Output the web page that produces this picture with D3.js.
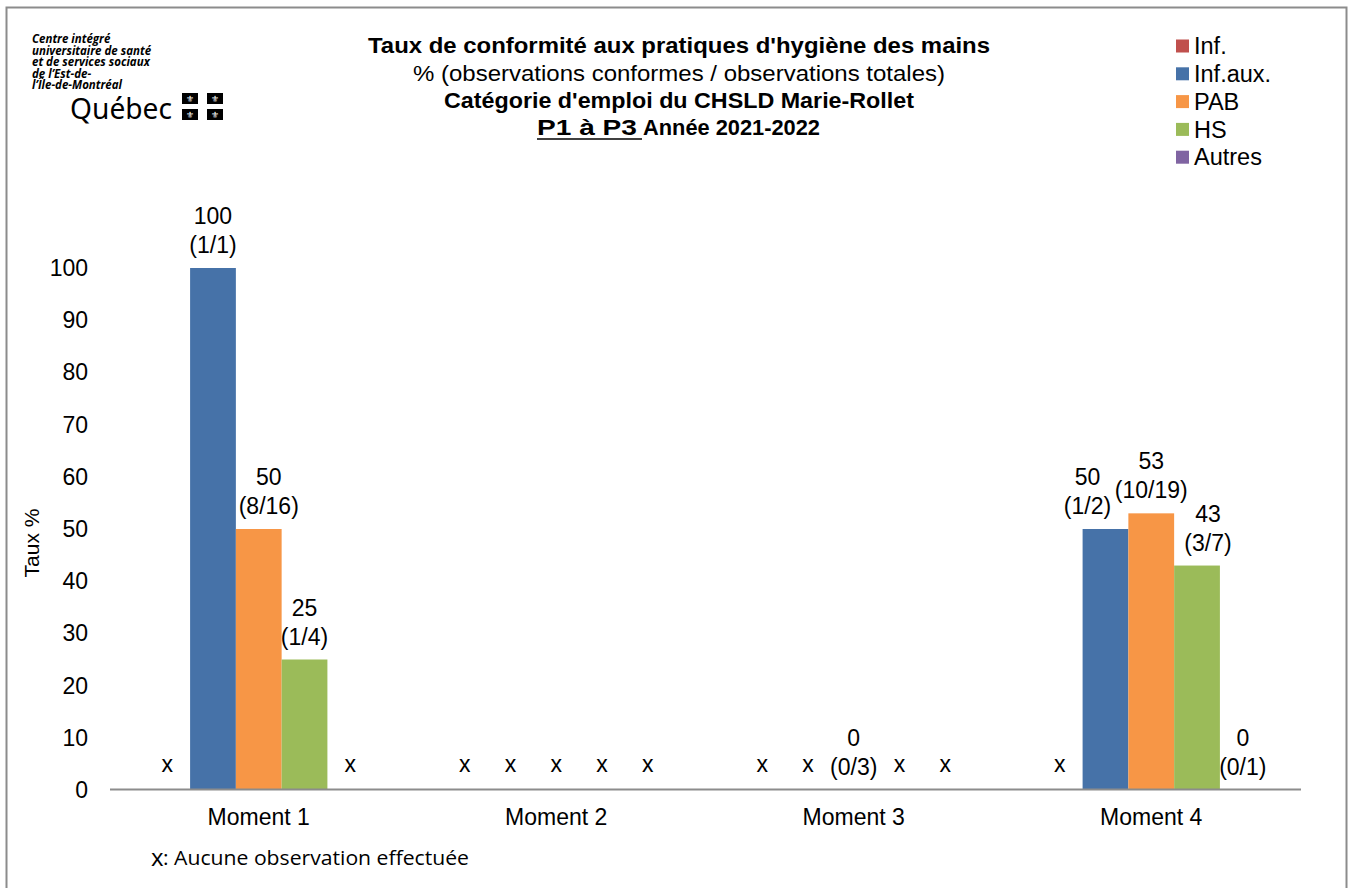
<!DOCTYPE html>
<html>
<head>
<meta charset="utf-8">
<script src="https://cdn.jsdelivr.net/npm/d3@7"></script>
<style>
  html, body { margin: 0; padding: 0; background: #fff; }
  svg { display: block; }
  text { font-family: "Liberation Sans", Arial, sans-serif; fill: #000; }
</style>
</head>
<body>
<svg id="chart" width="1350" height="888"></svg>
<script>
// ---- Data -----------------------------------------------------------------
var categories = ['Moment 1', 'Moment 2', 'Moment 3', 'Moment 4'];
var seriesNames = ['Inf.', 'Inf.aux.', 'PAB', 'HS', 'Autres'];
var seriesColors = ['#C0504D', '#4672A8', '#F79646', '#9BBB59', '#8064A2'];
// null = aucune observation (drawn as "x")
var infValues     = [null, null, null, null];
var infAuxValues  = [100, null, null, 50];
var pabValues     = [50, null, 0, 53];
var hsValues      = [25, null, null, 43];
var autresValues  = [null, null, null, 0];
var infFrac       = [null, null, null, null];
var infAuxFrac    = ['1/1', null, null, '1/2'];
var pabFrac       = ['8/16', null, '0/3', '10/19'];
var hsFrac        = ['1/4', null, null, '3/7'];
var autresFrac    = [null, null, null, '0/1'];
var yTicks = [0, 10, 20, 30, 40, 50, 60, 70, 80, 90, 100];

var seriesValues = [infValues, infAuxValues, pabValues, hsValues, autresValues];
var seriesFracs = [infFrac, infAuxFrac, pabFrac, hsFrac, autresFrac];

// labels nudged sideways in the original so they don't collide
var labelNudge = { 'Moment 1|PAB': 10, 'Moment 4|Inf.aux.': -18, 'Moment 4|HS': 11 };

var FS = '23px';   // chart label size
var svg = d3.select('#chart');

// ---- Frame ----------------------------------------------------------------
svg.append('rect')
  .attr('x', 6.5).attr('y', 7.5)
  .attr('width', 1340).attr('height', 900)
  .attr('fill', '#fff').attr('stroke', '#8c8c8c').attr('stroke-width', 2);

// ---- Scales ---------------------------------------------------------------
var x0 = d3.scaleBand().domain(categories).range([110, 1300]).padding(0);
var x1 = d3.scaleBand().domain(seriesNames).range([0, x0.bandwidth()])
  .paddingInner(0).paddingOuter(0.75);
var y = d3.scaleLinear().domain([0, 100]).range([790, 268]);

// ---- Y axis (labels only, no line) ---------------------------------------
svg.append('g').selectAll('text').data(yTicks).enter().append('text')
  .attr('x', 88).attr('y', function(d) { return y(d); })
  .attr('dy', '0.35em')
  .attr('text-anchor', 'end')
  .style('font-size', FS)
  .text(function(d) { return d; });

svg.append('text')
  .attr('transform', 'translate(32,543) rotate(-90)')
  .attr('dy', '0.35em')
  .attr('text-anchor', 'middle')
  .style('font-size', '21px')
  .text('Taux %');

// ---- Bars -----------------------------------------------------------------
var flat = [];
categories.forEach(function(c, ci) {
  seriesNames.forEach(function(s, si) {
    flat.push({ cat: c, ser: s, si: si, value: seriesValues[si][ci], frac: seriesFracs[si][ci] });
  });
});

var gBars = svg.append('g');
gBars.selectAll('rect').data(flat.filter(function(d) { return d.value; })).enter().append('rect')
  .attr('x', function(d) { return x0(d.cat) + x1(d.ser); })
  .attr('y', function(d) { return y(d.value); })
  .attr('width', x1.bandwidth())
  .attr('height', function(d) { return y(0) - y(d.value); })
  .attr('fill', function(d) { return seriesColors[d.si]; });

// ---- X axis line + labels -------------------------------------------------
svg.append('line')
  .attr('x1', 110).attr('x2', 1301)
  .attr('y1', y(0) - 0.5).attr('y2', y(0) - 0.5)
  .attr('stroke', '#8c8c8c').attr('stroke-width', 2);

svg.append('g').selectAll('text').data(categories).enter().append('text')
  .attr('x', function(d) { return x0(d) + x0.bandwidth() / 2; })
  .attr('y', 817).attr('dy', '0.35em')
  .attr('text-anchor', 'middle')
  .style('font-size', FS)
  .text(function(d) { return d; });

// ---- Data labels ----------------------------------------------------------
var gLab = svg.append('g');
flat.forEach(function(d) {
  var cx = x0(d.cat) + x1(d.ser) + x1.bandwidth() / 2 + (labelNudge[d.cat + '|' + d.ser] || 0);
  if (d.value === null) {
    gLab.append('text').attr('x', cx).attr('y', y(0) - 26).attr('dy', '0.35em')
      .attr('text-anchor', 'middle').style('font-size', FS).text('x');
  } else {
    var top = y(d.value);
    gLab.append('text').attr('x', cx).attr('y', top - 52).attr('dy', '0.35em')
      .attr('text-anchor', 'middle').style('font-size', FS).text(d.value);
    gLab.append('text').attr('x', cx).attr('y', top - 23).attr('dy', '0.35em')
      .attr('text-anchor', 'middle').style('font-size', FS).text('(' + d.frac + ')');
  }
});

// ---- Title ----------------------------------------------------------------
var narrow = '"Liberation Sans Narrow", "Arial Narrow", "Liberation Sans", sans-serif';
var titleLines = [
  { t: "Taux de conformité aux pratiques d'hygiène des mains", y: 45, w: 622, bold: true },
  { t: '% (observations conformes / observations totales)', y: 73, w: 532, bold: false },
  { t: "Catégorie d'emploi du CHSLD Marie-Rollet", y: 100, w: 470, bold: true }
];
titleLines.forEach(function(l) {
  svg.append('text').attr('x', 679).attr('y', l.y).attr('dy', '0.35em')
    .attr('text-anchor', 'middle')
    .attr('textLength', l.w).attr('lengthAdjust', 'spacingAndGlyphs')
    .style('font-family', narrow).style('font-size', '22px')
    .style('font-weight', l.bold ? 'bold' : 'normal')
    .text(l.t);
});
svg.append('text').attr('x', 537).attr('y', 127).attr('dy', '0.35em')
  .attr('textLength', 100).attr('lengthAdjust', 'spacingAndGlyphs')
  .style('font-family', narrow).style('font-size', '22px').style('font-weight', 'bold')
  .text('P1 à P3');
svg.append('line').attr('x1', 537).attr('x2', 642).attr('y1', 139).attr('y2', 139)
  .attr('stroke', '#000').attr('stroke-width', 1.6);
svg.append('text').attr('x', 643).attr('y', 127).attr('dy', '0.35em')
  .attr('textLength', 177).attr('lengthAdjust', 'spacingAndGlyphs')
  .style('font-family', narrow).style('font-size', '22px').style('font-weight', 'bold')
  .text('Année 2021-2022');

// ---- Legend ---------------------------------------------------------------
var leg = svg.append('g').selectAll('g').data(seriesNames).enter().append('g')
  .attr('transform', function(d, i) { return 'translate(1176,' + (46 + i * 27.8) + ')'; });
leg.append('rect').attr('x', 0).attr('y', -6.5).attr('width', 13).attr('height', 13)
  .attr('fill', function(d, i) { return seriesColors[i]; });
leg.append('text').attr('x', 18).attr('y', 0).attr('dy', '0.35em')
  .style('font-size', '23.5px').text(function(d) { return d; });

// ---- Footnote -------------------------------------------------------------
var noteFont = '"Open Sans", "Noto Sans", sans-serif';
svg.append('text').attr('x', 151).attr('y', 858).attr('dy', '0.35em')
  .style('font-family', noteFont).style('font-size', '24px').text('x');
svg.append('text').attr('x', 163).attr('y', 858).attr('dy', '0.35em')
  .attr('textLength', 306).attr('lengthAdjust', 'spacingAndGlyphs')
  .style('font-family', noteFont).style('font-size', '19.5px')
  .text(': Aucune observation effectuée');

// ---- Logo -----------------------------------------------------------------
// one text block, lines as tspans (tight leading like the original logo)
var logoLines = ['Centre intégré', 'universitaire de santé', 'et de services sociaux', "de l’Est-de-", "l’Île-de-Montréal"];
var logoTxt = svg.append('text').attr('x', 32).attr('y', 43)
  .style('font-family', '"Open Sans", "DejaVu Sans", sans-serif')
  .style('font-size', '11.5px').style('font-weight', 'bold').style('font-style', 'italic');
logoTxt.selectAll('tspan').data(logoLines).enter().append('tspan')
  .attr('x', 32).attr('dy', function(d, i) { return i ? 11.5 : 0; })
  .text(function(d) { return d; });
svg.append('text').attr('x', 70).attr('y', 119)
  .attr('textLength', 102).attr('lengthAdjust', 'spacingAndGlyphs')
  .style('font-family', '"Noto Sans", "Open Sans", sans-serif')
  .style('font-size', '29px')
  .text('Québec');
[[182, 93], [207, 93], [182, 109], [207, 109]].forEach(function(p) {
  svg.append('rect').attr('x', p[0]).attr('y', p[1]).attr('width', 16).attr('height', 11).attr('fill', '#000');
  svg.append('text').attr('x', p[0] + 8).attr('y', p[1] + 5.5).attr('dy', '0.35em')
    .attr('text-anchor', 'middle')
    .style('font-family', '"DejaVu Sans", sans-serif').style('font-size', '9px')
    .style('fill', '#fff').text('⚜');
});
</script>
</body>
</html>
